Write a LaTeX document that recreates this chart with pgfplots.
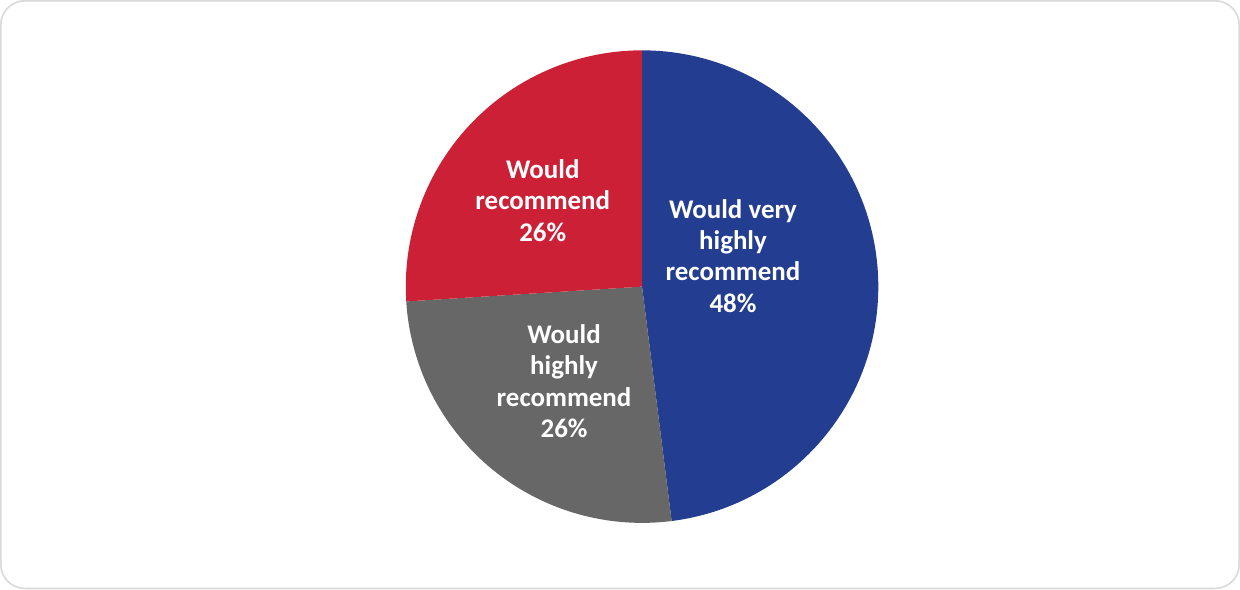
\documentclass[border=0pt]{standalone}
\usepackage{pgfplots}
\usepackage{pgfplotstable}
\pgfplotsset{compat=1.18}
\usepackage{fontspec}
\setmainfont{Carlito}
\definecolor{pieblue}{HTML}{233D91}
\definecolor{piered}{HTML}{CC2037}
\definecolor{piegray}{HTML}{676767}
\definecolor{framegray}{HTML}{D9D9D9}

% share of answers, in percent, clockwise from 12 o'clock
\pgfplotstableread{
slice value
veryhigh 48
high 26
rec 26
}\piedata

\begin{document}
\begin{tikzpicture}[x=1bp,y=1bp,
    pielabel/.style={font=\bfseries\fontsize{27}{31.5}\selectfont, text=white, align=center}]
  \pgfplotstablegetelem{0}{value}\of\piedata \let\vA\pgfplotsretval
  \pgfplotstablegetelem{1}{value}\of\piedata \let\vB\pgfplotsretval
  \pgfplotstablegetelem{2}{value}\of\piedata \let\vC\pgfplotsretval
  \pgfmathsetmacro{\aA}{90}
  \pgfmathsetmacro{\aB}{\aA-3.6*\vA}
  \pgfmathsetmacro{\aC}{\aB-3.6*\vB}
  \pgfmathsetmacro{\aD}{\aC-3.6*\vC}
  \def\rad{236bp}

  \draw[framegray, line width=1.6bp, rounded corners=24bp] (1.5,1.5) rectangle (1238.5,588.5);

  \begin{axis}[
      at={(642bp,303bp)}, anchor=center,
      width=472bp, height=472bp, scale only axis,
      xmin=-1, xmax=1, ymin=-1, ymax=1,
      axis lines=none, clip=false,
    ]
    \fill[pieblue] (axis cs:0,0) -- (axis cs:{cos(\aA)},{sin(\aA)}) arc[start angle=\aA, end angle=\aB, radius=\rad] -- cycle;
    \fill[piegray] (axis cs:0,0) -- (axis cs:{cos(\aB)},{sin(\aB)}) arc[start angle=\aB, end angle=\aC, radius=\rad] -- cycle;
    \fill[piered] (axis cs:0,0) -- (axis cs:{cos(\aC)},{sin(\aC)}) arc[start angle=\aC, end angle=\aD, radius=\rad] -- cycle;
    \node[pielabel] at (axis cs:0.385,0.13) {Would very\\highly\\recommend\\\vA\%};
    \node[pielabel] at (axis cs:-0.33,-0.40) {Would\\highly\\recommend\\\vB\%};
    \node[pielabel] at (axis cs:-0.42,0.365) {Would\\recommend\\\vC\%};
  \end{axis}
\end{tikzpicture}
\end{document}
